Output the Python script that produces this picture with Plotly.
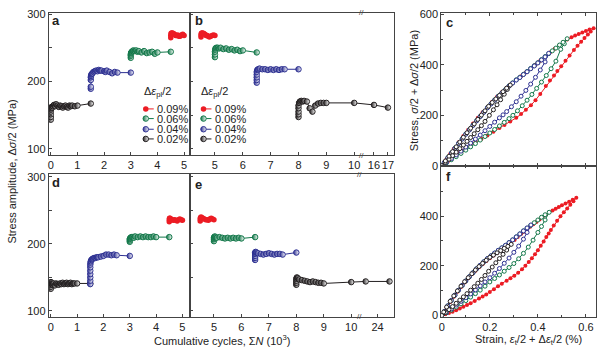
import plotly.graph_objects as go

# ---------------- data ----------------
amp_labels = ["0.09%", "0.06%", "0.04%", "0.02%"]

# Panel a : cumulative cycles (10^3) vs stress amplitude (MPa), ascending test
a_k_x = [0.0, 0.0, 0.0, 0.0, 0.01, 0.02, 0.03, 0.05, 0.08, 0.12, 0.16, 0.2, 0.25, 0.3, 0.35, 0.4, 0.45, 0.5, 0.55, 0.6, 0.65, 0.7, 0.75, 0.8, 0.9, 1.0, 1.5]
a_k_y = [143, 147, 151, 155, 158, 160, 162, 161, 163, 165, 163, 166, 164, 162, 164, 163, 161, 163, 164, 162, 161, 164, 163, 164, 163, 164, 167]
a_b_x = [1.5, 1.5, 1.5, 1.5, 1.51, 1.52, 1.54, 1.56, 1.6, 1.65, 1.7, 1.75, 1.8, 1.85, 1.9, 2.0, 2.05, 2.1, 2.2, 2.3, 2.4, 2.5, 3.0]
a_b_y = [189, 192, 202, 206, 208, 210, 211, 212, 214, 215, 216, 215, 217, 216, 216, 215, 214, 216, 214, 212, 214, 213, 213]
a_g_x = [3.0, 3.0, 3.0, 3.01, 3.02, 3.04, 3.07, 3.1, 3.15, 3.2, 3.25, 3.3, 3.4, 3.5, 3.6, 3.7, 3.8, 3.9, 4.0, 4.5]
a_g_y = [235, 238, 240, 242, 243, 244, 245, 246, 245, 246, 244, 245, 243, 245, 242, 243, 244, 241, 243, 244]
a_r_x = [4.5, 4.5, 4.51, 4.53, 4.56, 4.6, 4.64, 4.68, 4.72, 4.76, 4.8, 4.85, 4.9, 4.95, 5.0]
a_r_y = [265, 268, 271, 272, 272, 271, 270, 268, 268, 269, 267, 267, 269, 270, 268]

# Panel b : descending test
b_r_x = [4.5, 4.5, 4.51, 4.53, 4.56, 4.6, 4.64, 4.68, 4.72, 4.76, 4.8, 4.85, 4.9, 4.95, 5.0]
b_r_y = [266, 269, 271, 272, 272, 271, 270, 268, 268, 267, 266, 267, 268, 269, 268]
b_g_x = [5.0, 5.0, 5.0, 5.01, 5.02, 5.05, 5.1, 5.15, 5.2, 5.3, 5.4, 5.5, 5.6, 5.7, 5.8, 5.9, 6.0, 6.5]
b_g_y = [236, 240, 244, 247, 249, 250, 250, 249, 250, 248, 249, 247, 248, 246, 247, 245, 246, 243]
b_b_x = [6.5, 6.5, 6.5, 6.5, 6.5, 6.52, 6.55, 6.6, 6.7, 6.8, 6.9, 7.0, 7.1, 7.2, 7.3, 7.4, 7.5, 8.0]
b_b_y = [198, 202, 206, 210, 214, 217, 218, 219, 218, 218, 217, 218, 217, 218, 217, 218, 218, 218]
b_k_x = [8.0, 8.0, 8.0, 8.0, 8.0, 8.02, 8.05, 8.1, 8.15, 8.2, 8.3, 8.4, 8.5, 8.6, 8.7, 8.8, 8.9, 9.0, 10, 16, 17]
b_k_y = [147, 151, 155, 160, 164, 168, 170, 171, 170, 171, 170, 160, 155, 164, 167, 168, 168, 168, 168, 165, 161]
b_ticks = [5, 6, 7, 8, 9, 10, 16, 17]

# Panel d
d_k_x = [0.0, 0.0, 0.0, 0.0, 0.01, 0.02, 0.04, 0.07, 0.1, 0.15, 0.2, 0.25, 0.3, 0.35, 0.4, 0.45, 0.5, 0.55, 0.6, 0.65, 0.7, 0.75, 0.8, 0.85, 0.9, 1.0, 1.5]
d_k_y = [133, 136, 139, 142, 143, 141, 140, 139, 141, 138, 141, 140, 139, 141, 140, 142, 140, 141, 142, 140, 141, 142, 140, 141, 141, 141, 141]
d_b_x = [1.5, 1.5, 1.5, 1.5, 1.5, 1.5, 1.5, 1.51, 1.52, 1.54, 1.57, 1.6, 1.65, 1.7, 1.75, 1.8, 1.9, 2.0, 2.1, 2.2, 2.3, 2.4, 2.5, 3.0]
d_b_y = [140, 145, 150, 155, 160, 165, 169, 172, 174, 176, 177, 178, 179, 179, 180, 180, 181, 182, 184, 184, 183, 184, 183, 182]
d_g_x = [3.0, 3.0, 3.0, 3.01, 3.03, 3.06, 3.1, 3.15, 3.2, 3.3, 3.4, 3.5, 3.6, 3.7, 3.8, 3.9, 4.0, 4.5]
d_g_y = [203, 205, 207, 208, 209, 210, 210, 209, 211, 210, 211, 210, 211, 210, 210, 211, 210, 210]
d_r_x = [4.5, 4.5, 4.51, 4.53, 4.56, 4.6, 4.65, 4.7, 4.75, 4.8, 4.85, 4.9, 4.95, 5.0]
d_r_y = [233, 236, 238, 238, 237, 236, 235, 236, 235, 234, 236, 237, 236, 235]

# Panel e
e_r_x = [4.5, 4.5, 4.51, 4.53, 4.56, 4.6, 4.65, 4.7, 4.75, 4.8, 4.85, 4.9, 4.95, 5.0]
e_r_y = [234, 237, 239, 240, 239, 238, 237, 236, 236, 235, 237, 238, 237, 236]
e_g_x = [5.0, 5.0, 5.0, 5.01, 5.03, 5.06, 5.1, 5.2, 5.3, 5.4, 5.5, 5.6, 5.7, 5.8, 5.9, 6.0, 6.5]
e_g_y = [204, 207, 209, 210, 211, 210, 209, 210, 209, 208, 209, 208, 209, 208, 209, 208, 210]
e_b_x = [6.5, 6.5, 6.5, 6.5, 6.5, 6.52, 6.55, 6.6, 6.7, 6.8, 6.9, 7.0, 7.1, 7.2, 7.3, 7.4, 7.5, 8.0]
e_b_y = [176, 179, 182, 185, 187, 188, 187, 186, 185, 184, 185, 186, 185, 184, 185, 185, 184, 187]
e_k_x = [8.0, 8.0, 8.0, 8.0, 8.02, 8.05, 8.1, 8.2, 8.3, 8.4, 8.5, 8.6, 8.7, 8.8, 8.9, 9.0, 10, 22, 26]
e_k_y = [139, 142, 145, 148, 150, 149, 147, 146, 145, 144, 143, 144, 143, 142, 142, 141, 143, 144, 144]
e_ticks = [5, 6, 7, 8, 9, 10, 24]

# Panel c : hysteresis loops, strain (%) vs stress (MPa); lower branch then upper branch
c_r_s = [0, 0.012, 0.025, 0.04, 0.055, 0.07, 0.085, 0.1, 0.12, 0.14, 0.165, 0.19, 0.215, 0.24, 0.261, 0.285, 0.31, 0.33, 0.35, 0.371,
         0.39, 0.41, 0.433, 0.45, 0.467, 0.481, 0.497, 0.515, 0.532, 0.55, 0.565, 0.58, 0.594, 0.608, 0.62, 0.632,
         0.615, 0.6, 0.585, 0.57, 0.555, 0.54, 0.522, 0.505, 0.49, 0.47, 0.45, 0.43, 0.41, 0.39, 0.37, 0.35, 0.33, 0.31,
         0.29, 0.27, 0.25, 0.23, 0.21, 0.19, 0.17, 0.15, 0.13, 0.11, 0.09, 0.07, 0.05, 0.035, 0.02, 0.01, 0]
c_r_t = [0, 8, 17, 29, 40, 50, 60, 69, 81, 93, 106, 120, 135, 150, 162, 176, 190, 205, 222, 240,
         260, 285, 316, 338, 358, 376, 395, 417, 438, 459, 476, 492, 507, 521, 533, 546,
         541, 535, 529, 523, 517, 510, 501, 490, 479, 464, 449, 433, 417, 401, 385, 370, 355, 340,
         325, 309, 292, 274, 254, 232, 212, 190, 168, 143, 118, 93, 67, 47, 27, 14, 0]
c_g_s = [0, 0.02, 0.04, 0.06, 0.08, 0.1, 0.12, 0.14, 0.16, 0.18, 0.2, 0.22, 0.24, 0.26, 0.28, 0.296, 0.315, 0.335,
         0.355, 0.375, 0.395, 0.415, 0.435, 0.455, 0.475, 0.495, 0.51, 0.522,
         0.505, 0.49, 0.475, 0.46, 0.445, 0.43, 0.415, 0.4, 0.385, 0.37, 0.355, 0.34, 0.325, 0.31, 0.295, 0.28,
         0.265, 0.25, 0.235, 0.22, 0.205, 0.19, 0.175, 0.16, 0.145, 0.13, 0.115, 0.1, 0.085, 0.07, 0.055, 0.04,
         0.025, 0.01, 0]
c_g_t = [0, 12, 24, 36, 49, 62, 75, 88, 102, 116, 130, 144, 158, 172, 187, 200, 218, 238,
         260, 283, 307, 332, 358, 385, 415, 462, 484, 504,
         490, 479, 467, 456, 445, 433, 421, 409, 397, 386, 374, 363, 351, 341, 329, 317,
         302, 289, 276, 261, 246, 231, 213, 196, 179, 161, 143, 126, 107, 89, 70, 51,
         32, 12, 0]
c_b_s = [0, 0.02, 0.04, 0.06, 0.08, 0.1, 0.12, 0.14, 0.16, 0.18, 0.2, 0.22, 0.24, 0.255, 0.27, 0.29, 0.31, 0.33,
         0.35, 0.37, 0.39, 0.41, 0.43, 0.445,
         0.43, 0.415, 0.4, 0.385, 0.37, 0.355, 0.34, 0.325, 0.31, 0.295, 0.28, 0.265, 0.25, 0.235, 0.22, 0.205,
         0.19, 0.175, 0.16, 0.145, 0.13, 0.115, 0.1, 0.085, 0.07, 0.055, 0.04, 0.025, 0.01, 0]
c_b_t = [0, 14, 28, 43, 58, 74, 90, 106, 122, 139, 156, 173, 190, 202, 215, 234, 254, 276,
         299, 324, 351, 380, 412, 446,
         432, 420, 408, 396, 385, 373, 362, 350, 340, 328, 316, 301, 288, 275, 260, 245,
         230, 212, 195, 178, 160, 142, 125, 106, 88, 69, 50, 31, 12, 0]
c_k_s = [0, 0.015, 0.03, 0.045, 0.06, 0.075, 0.09, 0.105, 0.12, 0.135, 0.15, 0.165, 0.18, 0.198, 0.215, 0.23,
         0.245, 0.26, 0.273, 0.285,
         0.27, 0.255, 0.24, 0.225, 0.21, 0.195, 0.18, 0.165, 0.15, 0.135, 0.12, 0.105, 0.09, 0.075, 0.06, 0.045,
         0.03, 0.015, 0]
c_k_t = [0, 13, 26, 40, 54, 68, 82, 97, 112, 127, 143, 159, 176, 200, 222, 242,
         262, 284, 303, 320,
         308, 294, 279, 265, 251, 236, 218, 201, 184, 166, 149, 131, 113, 94, 75, 56,
         38, 19, 0]

# Panel f
f_r_s = [0, 0.015, 0.03, 0.045, 0.06, 0.075, 0.09, 0.105, 0.12, 0.137, 0.155, 0.17, 0.185, 0.2, 0.217, 0.234,
         0.25, 0.27, 0.286, 0.302, 0.318, 0.334, 0.348, 0.362, 0.375, 0.388, 0.4, 0.412, 0.424, 0.435, 0.445,
         0.454, 0.466, 0.48, 0.494, 0.508, 0.522, 0.535, 0.548, 0.56,
         0.545, 0.53, 0.515, 0.5, 0.487, 0.474, 0.461, 0.447, 0.433, 0.42, 0.407, 0.394, 0.381, 0.368, 0.355,
         0.342, 0.329, 0.316, 0.303, 0.289, 0.275, 0.26, 0.245, 0.23, 0.215, 0.2, 0.185, 0.17, 0.155, 0.14,
         0.125, 0.11, 0.095, 0.08, 0.065, 0.05, 0.035, 0.02, 0.008, 0]
f_r_t = [0, 5, 10, 15, 21, 28, 35, 42, 49, 58, 68, 76, 85, 95, 106, 118,
         128, 140, 150, 160, 172, 186, 200, 215, 230, 246, 262, 280, 298, 316, 330,
         344, 362, 381, 399, 415, 430, 445, 459, 473,
         465, 457, 450, 443, 436, 429, 422, 415, 405, 396, 386, 376, 367, 357, 347,
         337, 327, 316, 304, 292, 282, 272, 262, 252, 241, 230, 219, 207, 194, 180,
         166, 150, 133, 115, 96, 75, 54, 31, 12, 0]
f_g_s = [0, 0.02, 0.04, 0.06, 0.08, 0.1, 0.12, 0.14, 0.16, 0.18, 0.2, 0.22, 0.24, 0.26, 0.28, 0.3, 0.32, 0.34,
         0.36, 0.38, 0.4, 0.415, 0.43, 0.447,
         0.43, 0.415, 0.4, 0.385, 0.37, 0.355, 0.34, 0.325, 0.31, 0.295, 0.28, 0.265, 0.25, 0.235, 0.22, 0.205,
         0.19, 0.175, 0.16, 0.145, 0.13, 0.115, 0.1, 0.085, 0.07, 0.055, 0.04, 0.025, 0.01, 0]
f_g_t = [0, 11, 22, 34, 47, 60, 74, 88, 102, 118, 135, 149, 163, 178, 193, 209, 228, 250,
         275, 303, 334, 358, 384, 415,
         405, 395, 384, 373, 362, 351, 340, 328, 316, 304, 293, 282, 272, 262, 251, 240,
         229, 216, 202, 188, 172, 156, 139, 121, 102, 82, 61, 39, 16, 0]
f_b_s = [0, 0.02, 0.04, 0.06, 0.08, 0.1, 0.12, 0.14, 0.16, 0.18, 0.2, 0.22, 0.24, 0.26, 0.28, 0.3, 0.32, 0.34,
         0.355, 0.371,
         0.355, 0.34, 0.325, 0.31, 0.295, 0.28, 0.265, 0.25, 0.235, 0.22, 0.205, 0.19, 0.175, 0.16, 0.145, 0.13,
         0.115, 0.1, 0.085, 0.07, 0.055, 0.04, 0.025, 0.01, 0]
f_b_t = [0, 13, 27, 42, 57, 72, 87, 103, 119, 135, 152, 170, 189, 210, 231, 254, 279, 307,
         334, 364,
         352, 340, 328, 316, 304, 293, 282, 272, 262, 251, 240, 229, 216, 202, 188, 172,
         156, 139, 121, 102, 82, 61, 39, 16, 0]
f_k_s = [0, 0.015, 0.03, 0.045, 0.06, 0.075, 0.09, 0.105, 0.12, 0.135, 0.15, 0.165, 0.18, 0.195, 0.21, 0.225,
         0.24, 0.255, 0.27, 0.289,
         0.275, 0.26, 0.245, 0.23, 0.215, 0.2, 0.185, 0.17, 0.155, 0.14, 0.125, 0.11, 0.095, 0.08, 0.065, 0.05,
         0.035, 0.02, 0.008, 0]
f_k_t = [0, 12, 24, 36, 49, 62, 75, 88, 102, 116, 130, 145, 161, 178, 195, 212,
         229, 246, 263, 286,
         278, 270, 261, 252, 243, 234, 222, 210, 197, 183, 168, 152, 136, 118, 99, 79,
         57, 34, 14, 0]

# ---------------- style ----------------
RED, GREEN, BLUE, BLACK = "#ec1c24", "#13784a", "#2e3192", "#231f20"
COLS = [RED, GREEN, BLUE, BLACK]
LINE = "#444444"
FONT = "Liberation Sans, Arial, sans-serif"
W, H = 600, 348


def px(x):
    return x / W


def py(y):
    return 1 - y / H


def brk_b(v):
    return [x if x <= 10 else 10.71 + (x - 16) * 0.5 for x in v]


def brk_e(v):
    return [x if x <= 10 else 10.96 + (x - 24) * 0.217 for x in v]


fig = go.Figure()


def marker_style(col, filled, size):
    if filled:
        return dict(size=size, color=col, line=dict(color=col, width=0))
    return dict(size=size, color=col, line=dict(color=col, width=1),
                gradient=dict(type="horizontal", color="white"))


def step(x, y, col, filled, xa, ya):
    fig.add_trace(go.Scatter(x=x, y=y, mode="lines+markers", xaxis=xa, yaxis=ya,
                             line=dict(color=col, width=1),
                             marker=marker_style(col, filled, 5.5),
                             showlegend=False, hoverinfo="skip"))


def loop(s, t, col, filled, xa, ya):
    if filled:
        mk = dict(size=4, color=col, line=dict(width=0))
    else:
        mk = dict(size=4, color="white", line=dict(color=col, width=1))
    fig.add_trace(go.Scatter(x=s, y=t, mode="lines+markers", xaxis=xa, yaxis=ya,
                             line=dict(color=col, width=1), marker=mk,
                             showlegend=False, hoverinfo="skip"))


# a
step(a_k_x, a_k_y, BLACK, False, "x", "y")
step(a_b_x, a_b_y, BLUE, False, "x", "y")
step(a_g_x, a_g_y, GREEN, False, "x", "y")
step(a_r_x, a_r_y, RED, True, "x", "y")
# b
step(brk_b(b_k_x), b_k_y, BLACK, False, "x2", "y2")
step(brk_b(b_b_x), b_b_y, BLUE, False, "x2", "y2")
step(brk_b(b_g_x), b_g_y, GREEN, False, "x2", "y2")
step(brk_b(b_r_x), b_r_y, RED, True, "x2", "y2")
# c
loop(c_r_s, c_r_t, RED, True, "x3", "y3")
loop(c_g_s, c_g_t, GREEN, False, "x3", "y3")
loop(c_b_s, c_b_t, BLUE, False, "x3", "y3")
loop(c_k_s, c_k_t, BLACK, False, "x3", "y3")
# d
step(d_k_x, d_k_y, BLACK, False, "x4", "y4")
step(d_b_x, d_b_y, BLUE, False, "x4", "y4")
step(d_g_x, d_g_y, GREEN, False, "x4", "y4")
step(d_r_x, d_r_y, RED, True, "x4", "y4")
# e
step(brk_e(e_k_x), e_k_y, BLACK, False, "x5", "y5")
step(brk_e(e_b_x), e_b_y, BLUE, False, "x5", "y5")
step(brk_e(e_g_x), e_g_y, GREEN, False, "x5", "y5")
step(brk_e(e_r_x), e_r_y, RED, True, "x5", "y5")
# f
loop(f_r_s, f_r_t, RED, True, "x6", "y6")
loop(f_g_s, f_g_t, GREEN, False, "x6", "y6")
loop(f_b_s, f_b_t, BLUE, False, "x6", "y6")
loop(f_k_s, f_k_t, BLACK, False, "x6", "y6")

# legend glyphs on a pixel overlay axis
LEG_ROWS = [107.3, 117.3, 128.3, 138.3]
annotations = []
for cx, tx in [(143.5, 140), (201.5, 197)]:
    annotations.append(dict(x=px(tx), y=py(90), xref="paper", yref="paper",
                            text="Δ<i>ε</i><sub>pl</sub>/2", showarrow=False,
                            xanchor="left", yanchor="middle", font=dict(size=11)))
    for lab, col, ry in zip(amp_labels, COLS, LEG_ROWS):
        fig.add_trace(go.Scatter(x=[cx, cx + 8], y=[ry, ry], mode="lines",
                                 xaxis="x7", yaxis="y7", line=dict(color=col, width=1),
                                 showlegend=False, hoverinfo="skip"))
        fig.add_trace(go.Scatter(x=[cx], y=[ry], mode="markers",
                                 xaxis="x7", yaxis="y7",
                                 marker=marker_style(col, col == RED, 5.5),
                                 showlegend=False, hoverinfo="skip"))
        annotations.append(dict(x=px(cx + 9.5), y=py(ry), xref="paper", yref="paper",
                                text=lab, showarrow=False, xanchor="left",
                                yanchor="middle", font=dict(size=11)))

# panel letters
for letter, lx, ly in [("a", 53.5, 16.5), ("b", 196.5, 16.5), ("c", 448.5, 18),
                       ("d", 53.5, 183.5), ("e", 196.5, 185), ("f", 447.5, 177.5)]:
    annotations.append(dict(x=px(lx), y=py(ly), xref="paper", yref="paper",
                            text="<b>%s</b>" % letter, showarrow=False,
                            xanchor="center", yanchor="middle", font=dict(size=13)))

# axis titles
annotations += [
    dict(x=px(9), y=py(172), xref="paper", yref="paper", textangle=-90,
         xanchor="center", yanchor="middle",
         text="Stress amplitude, Δ<i>σ</i>/2 (MPa)", showarrow=False, font=dict(size=11)),
    dict(x=px(413), y=py(88), xref="paper", yref="paper", textangle=-90,
         xanchor="center", yanchor="middle",
         text="Stress, <i>σ</i>/2 + Δ<i>σ</i>/2 (MPa)", showarrow=False, font=dict(size=11)),
    dict(x=px(220), y=py(340), xref="paper", yref="paper", xanchor="center", yanchor="middle",
         yshift=-6,
         text="Cumulative cycles, Σ<i>N</i> (10<sup>3</sup>)", showarrow=False, font=dict(size=11)),
    dict(x=px(528), y=py(340), xref="paper", yref="paper", xanchor="center", yanchor="middle",
         yshift=-6,
         text="Strain, <i>ε</i><sub>t</sub>/2 + Δ<i>ε</i><sub>t</sub>/2 (%)", showarrow=False,
         font=dict(size=11)),
]

# axis break marks
for xr, xv, tops in [("x2", 10.27, (8, 155)), ("x5", 10.3, (175, 322))]:
    for yy in tops:
        annotations.append(dict(x=xv, y=py(yy), xref=xr, yref="paper", text="//",
                                showarrow=False, font=dict(size=8, color=LINE),
                                xanchor="center", yanchor="middle"))


def axis(domain, rng, anchor, **kw):
    d = dict(domain=domain, range=rng, anchor=anchor, showline=True, linecolor=LINE,
             linewidth=1, mirror=True, ticks="inside", ticklen=3, tickcolor=LINE,
             tickwidth=1, showgrid=False, zeroline=False, tickangle=0,
             tickfont=dict(size=11, color="#222"), fixedrange=True)
    d.update(kw)
    return d


XA = [px(46), px(188)]
XB = [px(188), px(393)]
XC = [px(440.5), px(596)]
YAB = [py(155), py(8)]
YDE = [py(322), py(175)]
YC = [py(166), py(8.3)]
YF = [py(321.7), py(166)]

ymin = dict(tickvals=[150, 250], ticks="inside", ticklen=3, tickcolor=LINE)
cmin_y = dict(tickvals=[100, 300, 500], ticks="inside", ticklen=2, tickcolor=LINE)
cmin_x = dict(tickvals=[0.1, 0.3, 0.5], ticks="inside", ticklen=2, tickcolor=LINE)

fig.update_layout(
    width=W, height=H, margin=dict(l=0, r=0, t=0, b=0),
    paper_bgcolor="white", plot_bgcolor="rgba(0,0,0,0)",
    font=dict(family=FONT, size=11, color="#222"),
    showlegend=False,
    xaxis=axis(XA, [-0.075, 5.224], "y", tickvals=[0, 1, 2, 3, 4, 5]),
    yaxis=axis(YAB, [90.4, 302], "x", tickvals=[100, 200, 300], minor=ymin),
    xaxis2=axis(XB, [4.107, 11.43], "y2", tickvals=brk_b(b_ticks),
                ticktext=[str(t) for t in b_ticks]),
    yaxis2=axis(YAB, [90.4, 302], "x2", tickvals=[100, 150, 200, 250, 300],
                showticklabels=False),
    xaxis3=axis(XC, [-0.002, 0.642], "y3", tickvals=[0, 0.2, 0.4, 0.6],
                showticklabels=False, mirror="ticks", minor=cmin_x),
    yaxis3=axis(YC, [0, 606], "x3", tickvals=[0, 200, 400, 600], minor=cmin_y),
    xaxis4=axis(XA, [-0.076, 5.29], "y4", tickvals=[0, 1, 2, 3, 4, 5]),
    yaxis4=axis(YDE, [91.3, 303.3], "x4", tickvals=[100, 200, 300], minor=ymin),
    xaxis5=axis(XB, [4.13, 11.56], "y5", tickvals=brk_e(e_ticks),
                ticktext=[str(t) for t in e_ticks]),
    yaxis5=axis(YDE, [91.3, 303.3], "x5", tickvals=[100, 150, 200, 250, 300],
                showticklabels=False),
    xaxis6=axis(XC, [-0.002, 0.642], "y6", tickvals=[0, 0.2, 0.4, 0.6],
                ticktext=["0", "0.2", "0.4", "0.6"], mirror="ticks", minor=cmin_x),
    yaxis6=axis(YF, [-4, 602], "x6", tickvals=[0, 200, 400], minor=cmin_y),
    xaxis7=dict(domain=[0, 1], range=[0, W], visible=False, anchor="y7", fixedrange=True),
    yaxis7=dict(domain=[0, 1], range=[H, 0], visible=False, anchor="x7", fixedrange=True),
    annotations=annotations,
)

fig.write_html("out.html")
